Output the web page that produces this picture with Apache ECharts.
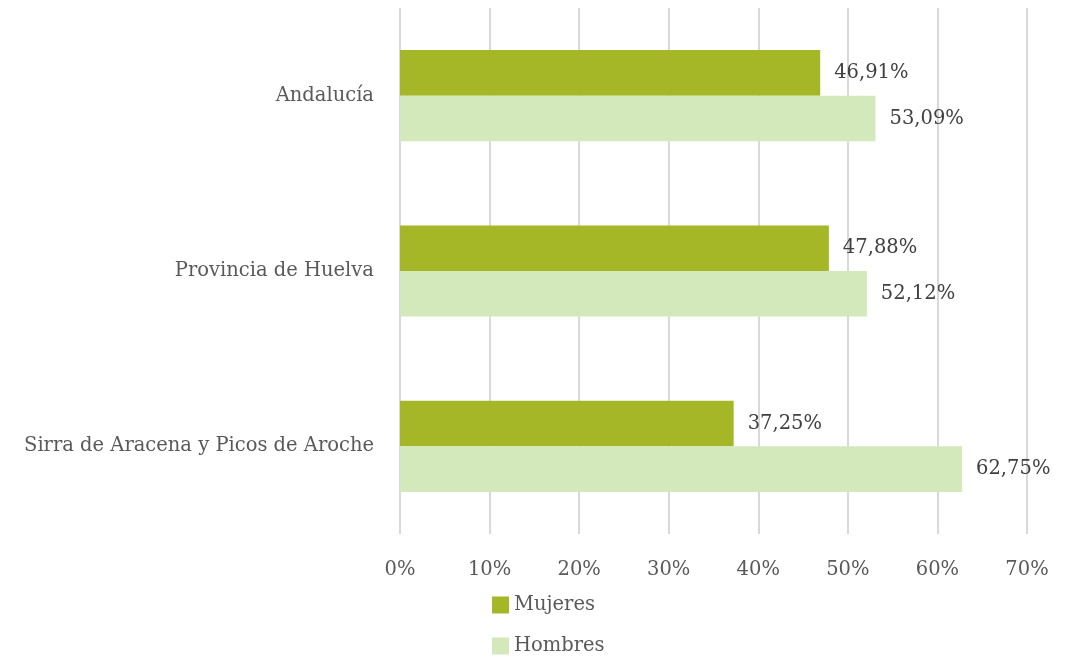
<!DOCTYPE html>
<html>
<head>
<meta charset="utf-8">
<script src="https://cdn.jsdelivr.net/npm/echarts@6/dist/echarts.min.js"></script>
<style>
html, body { margin: 0; padding: 0; background: #fff; }
#main { width: 1074px; height: 658px; }
</style>
</head>
<body>
<div id="main"></div>
<script>
var categories = ['Andalucía', 'Provincia de Huelva', 'Sirra de Aracena y Picos de Aroche'];
var mujeres = [46.91, 47.88, 37.25];
var hombres = [53.09, 52.12, 62.75];

var myChart = echarts.init(document.getElementById('main'));
var fuente = 'DejaVu Serif';

function etiqueta(p) {
    return p.value.toFixed(2).replace('.', ',') + '%';
}

// una leyenda por serie, una debajo de la otra
function leyenda(nombre, arriba) {
    return {
        data: [nombre],
        left: 487,
        top: arriba,
        itemWidth: 17,
        itemHeight: 17,
        itemGap: 8,
        icon: 'rect',
        textStyle: { fontFamily: fuente, fontSize: 19.5, color: '#595959' }
    };
}

var option = {
    animation: false,
    textStyle: { fontFamily: fuente },
    grid: { left: 400, right: 47, top: 8, bottom: 124 },
    legend: [leyenda('Mujeres', 590), leyenda('Hombres', 631)],
    xAxis: {
        type: 'value',
        min: 0,
        max: 70,
        interval: 10,
        axisLine: { show: false },
        axisTick: { show: false },
        axisLabel: { formatter: '{value}%', color: '#595959', fontSize: 19.5, margin: 26, fontFamily: fuente },
        splitLine: { lineStyle: { color: '#d9d9d9', width: 2 } }
    },
    yAxis: {
        type: 'category',
        inverse: true,
        data: categories,
        axisLine: { show: false },
        axisTick: { show: false },
        axisLabel: { color: '#595959', fontSize: 19.5, margin: 26, fontFamily: fuente }
    },
    series: [{
        name: 'Mujeres',
        type: 'bar',
        data: mujeres,
        barGap: 0,
        barCategoryGap: '48%',
        itemStyle: { color: '#a5b627' },
        label: { show: true, position: 'right', distance: 14, formatter: etiqueta, color: '#404040', fontSize: 19.5, fontFamily: fuente }
    }, {
        name: 'Hombres',
        type: 'bar',
        data: hombres,
        itemStyle: { color: '#d4e9bb' },
        label: { show: true, position: 'right', distance: 14, formatter: etiqueta, color: '#404040', fontSize: 19.5, fontFamily: fuente }
    }]
};

myChart.setOption(option);
</script>
</body>
</html>
